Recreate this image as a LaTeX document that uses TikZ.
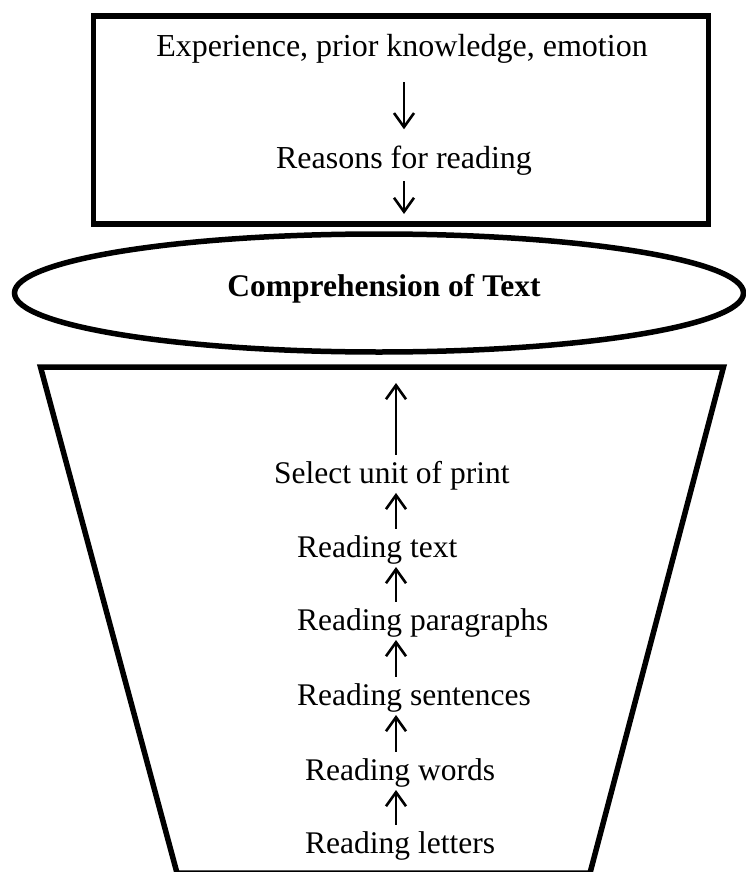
\documentclass[tikz,border=0pt]{standalone}
\usepackage{fontspec}
\setmainfont{Liberation Serif}
\usetikzlibrary{arrows.meta}
\begin{document}
\begin{tikzpicture}[x=1pt,y=-1pt,
  frame/.style={line width=5.5pt,line join=miter},
  toptext/.style={anchor=base,inner sep=2pt,font=\fontsize{32}{38}\selectfont},
  lowtext/.style={anchor=base west,inner sep=2pt,font=\fontsize{31.5}{37}\selectfont},
  arr/.style={line width=2.6pt,-{Straight Barb[length=14pt,width=20pt]}}]
\useasboundingbox (0,0) rectangle (746,872);
% outer shapes
\draw[frame] (93.5,16) rectangle (708.5,224);
\draw[frame] (379,293) ellipse [x radius=364.5,y radius=59];
\draw[frame] (40.5,367) -- (723.5,367) -- (590,873) -- (177,873) -- cycle;
% upper box
\node[toptext] (exp) at (402,57) {Experience, prior knowledge, emotion};
\node[toptext] (why) at (404,168) {Reasons for reading};
\coordinate (boxbot) at (404,224);
\draw[arr,shorten <=16pt,shorten >=14pt] (exp.south -| boxbot) -- (why.north -| boxbot);
\draw[arr,shorten <=4pt,shorten >=10pt] (why.south -| boxbot) -- (boxbot);
% ellipse label
\node[anchor=base,font=\bfseries\fontsize{31.5}{38}\selectfont] (comp) at (384,296) {Comprehension of Text};
% lower stack
\coordinate (ax) at (396,0);
\coordinate (trtop) at (396,367);
\node[lowtext] (sel) at (272,483) {Select unit of print};
\node[lowtext] (txt) at (295,557) {Reading text};
\node[lowtext] (par) at (295,630) {Reading paragraphs};
\node[lowtext] (sen) at (295,705) {Reading sentences};
\node[lowtext] (wrd) at (303,780) {Reading words};
\node[lowtext] (let) at (303,853) {Reading letters};
\draw[arr,shorten <=4pt,shorten >=16pt] (sel.north -| ax) -- (trtop);
\foreach \lo/\hi in {txt/sel,par/txt,sen/par,wrd/sen,let/wrd}
  \draw[arr,shorten <=4pt,shorten >=1pt] (\lo.north -| ax) -- (\hi.south -| ax);
\end{tikzpicture}
\end{document}
